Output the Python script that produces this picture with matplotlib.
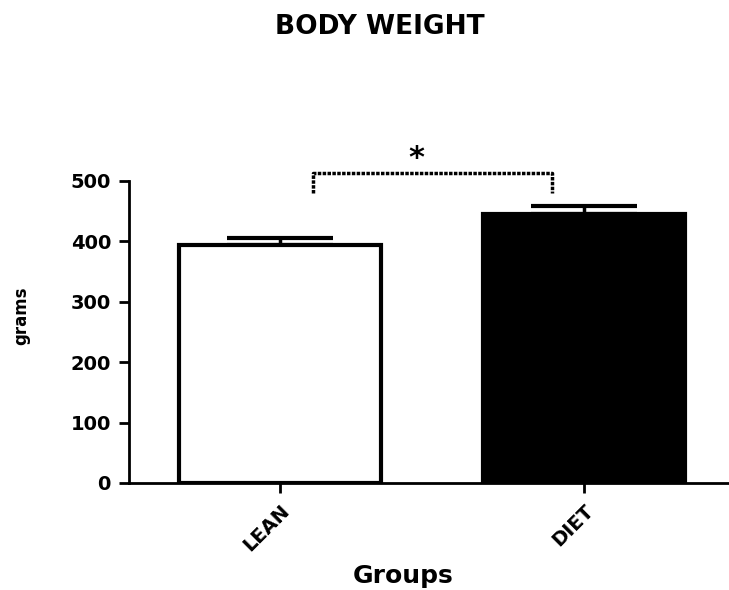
import numpy as np
import matplotlib.pyplot as plt

plt.rcParams['font.family'] = ['DejaVu Sans']
plt.rcParams['font.weight'] = 'bold'
plt.rcParams['axes.labelweight'] = 'bold'

# Data
groups = ['LEAN', 'DIET']
weights = [394, 446]
sem = [12, 13]
bar_colors = ['white', 'black']

fig = plt.figure(figsize=(7.29, 5.90), dpi=100)
# axes spans to right edge of image like the reference
ax = fig.add_axes([129 / 729, 107 / 590, 600 / 729, 302 / 590])

x = np.arange(len(groups))
ax.bar(x, weights, width=0.666, color=bar_colors, edgecolor='black',
       linewidth=3, zorder=2)
ax.errorbar(x, weights, yerr=[[0, 0], sem], fmt='none', ecolor='black',
            elinewidth=2.5, capsize=38, capthick=3, zorder=1)

ax.set_xlim(-0.497, 1.477)
ax.set_ylim(0, 500)
ax.set_yticks([0, 100, 200, 300, 400, 500])
ax.set_xticks(x)
ax.set_xticklabels(groups, rotation=45, ha='right', rotation_mode='anchor',
                   fontsize=15)

for side in ['top', 'right']:
    ax.spines[side].set_visible(False)
for side in ['left', 'bottom']:
    ax.spines[side].set_linewidth(2)
ax.tick_params(width=2, length=7, labelsize=14, pad=6)

ax.set_ylabel('grams', fontsize=12)
ax.yaxis.set_label_coords(-0.165, 0.553)
ax.set_xlabel('Groups', fontsize=18, va='center')
ax.xaxis.set_label_coords(0.457, -0.308)

# significance bracket
y_bar = 513
y_leg = 480
ax.plot([0.11, 0.11, 0.895, 0.895], [y_leg, y_bar, y_bar, y_leg],
        color='black', linewidth=2.5, linestyle=(0, (1, 0.4)), clip_on=False)
ax.text(0.45, 514, '*', ha='center', va='bottom', fontsize=22)

fig.text(380 / 729, 1 - 27 / 590, 'BODY WEIGHT', ha='center', va='center',
         fontsize=19)

fig.savefig('out.png', dpi=100)
